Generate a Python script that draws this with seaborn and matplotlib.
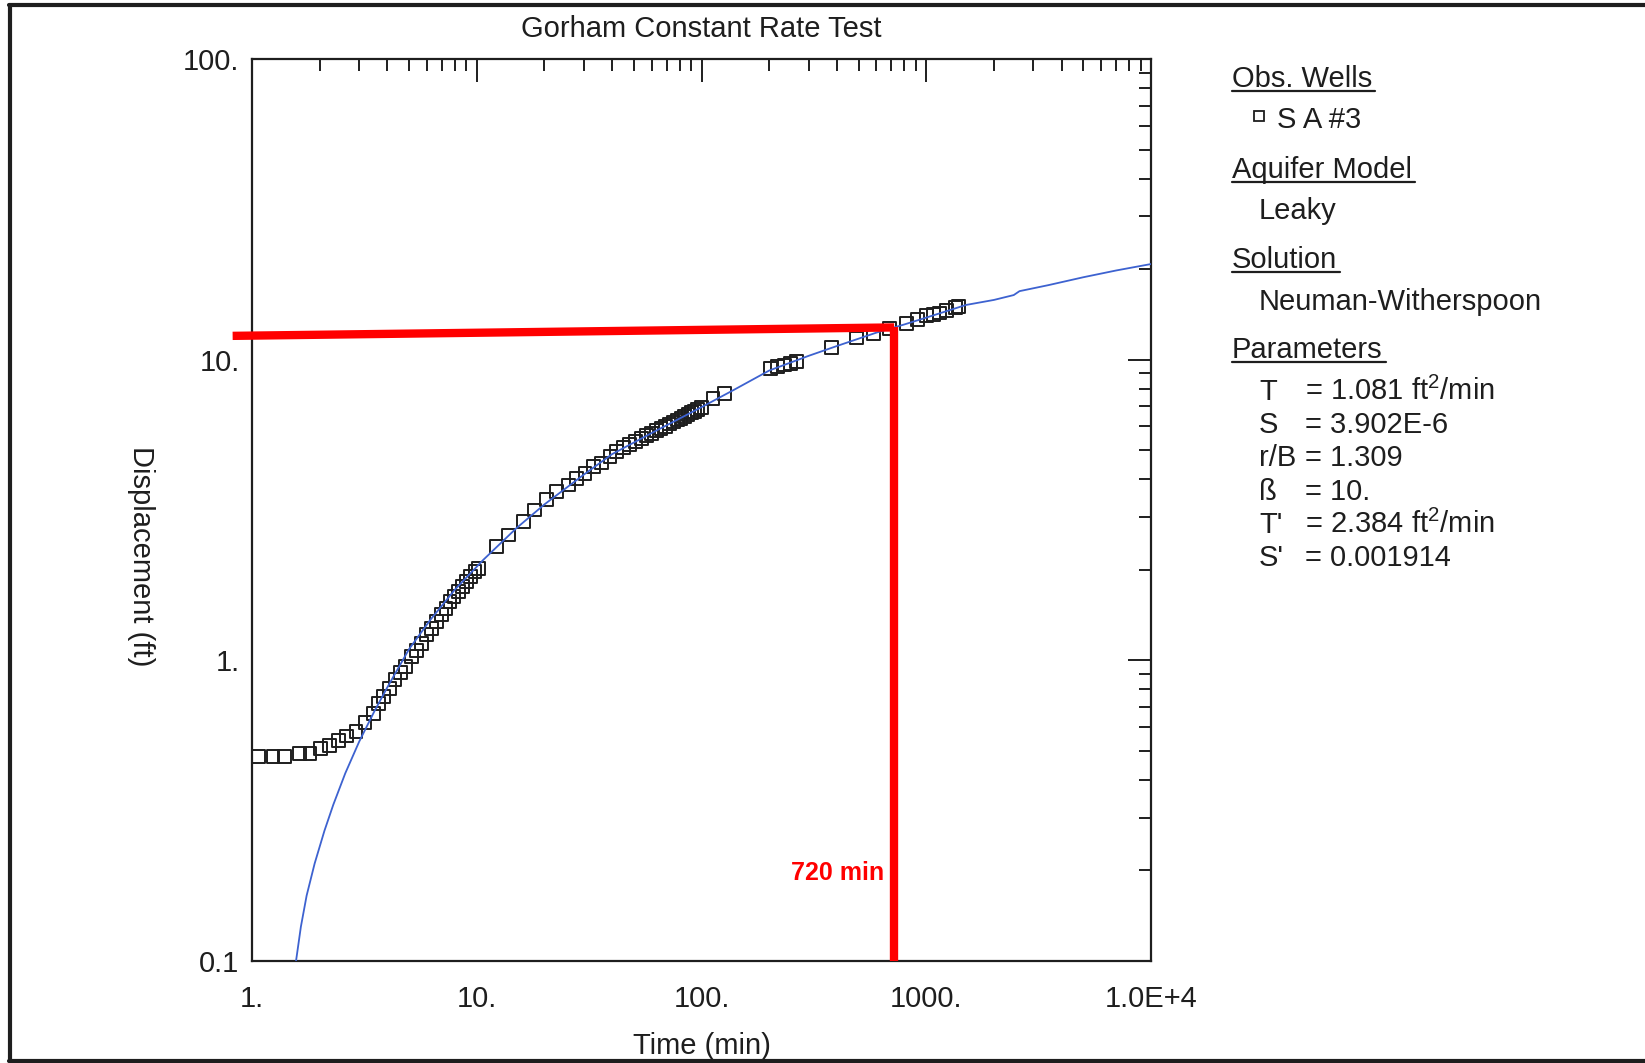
import matplotlib
matplotlib.use("Agg")
import matplotlib.pyplot as plt
from matplotlib.lines import Line2D
from matplotlib.ticker import LogLocator, NullFormatter
import seaborn as sns

obs_time = [1.07, 1.24, 1.40, 1.63, 1.81, 2.02, 2.22, 2.42, 2.64, 2.90, 3.18,
            3.47, 3.65, 3.84, 4.08, 4.33, 4.56, 4.80, 5.14, 5.41, 5.69, 5.99,
            6.30, 6.64, 6.98, 7.30, 7.60, 7.92, 8.28, 8.66, 9.02, 9.40, 9.82,
            10.2, 12.2, 13.8, 16.1, 18.1, 20.5, 22.7, 25.5, 27.8, 30.3, 33.0,
            36.0, 39.2, 42, 45, 48, 51, 54, 57, 60, 63, 66, 69, 72, 75, 78, 81,
            84, 87, 90, 93, 96, 100, 112.5, 127, 202, 218, 235, 248, 265, 380,
            490, 582, 689, 814, 912, 1000, 1075, 1150, 1232, 1345, 1393]
obs_disp = [0.48, 0.48, 0.48, 0.49, 0.49, 0.51, 0.52, 0.54, 0.56, 0.58, 0.62,
            0.667, 0.72, 0.757, 0.807, 0.861, 0.91, 0.953, 1.03, 1.08, 1.14, 1.22,
            1.28, 1.35, 1.42, 1.49, 1.57, 1.63, 1.69, 1.76, 1.83, 1.90, 1.97,
            2.02, 2.39, 2.61, 2.89, 3.16, 3.42, 3.64, 3.83, 4.03, 4.19, 4.41,
            4.53, 4.76, 4.95, 5.09, 5.22, 5.34, 5.46, 5.58, 5.69, 5.80, 5.90,
            6.00, 6.11, 6.20, 6.30, 6.39, 6.48, 6.57, 6.66, 6.74, 6.82, 6.93,
            7.44, 7.73, 9.36, 9.50, 9.60, 9.72, 9.84, 11.0, 11.8, 12.2, 12.7,
            13.2, 13.6, 14.0, 14.1, 14.3, 14.6, 14.9, 15.0]

# Neuman-Witherspoon type curve
fit_time = [1.57, 1.65, 1.75, 1.9, 2.1, 2.3, 2.6, 3.0, 3.5, 4.0, 5.0, 6.2, 8.0,
            10.7, 15, 20, 30, 40, 60, 100, 140, 200, 300, 400, 600, 800, 1000,
            1500, 2000, 2450, 2600, 3500, 5000, 7000, 10000]
fit_disp = [0.10, 0.130, 0.165, 0.211, 0.271, 0.331, 0.421, 0.537, 0.676, 0.813,
            1.09, 1.36, 1.72, 2.16, 2.75, 3.3, 4.15, 4.85, 5.7, 6.95, 7.95, 9.2,
            10.3, 11.1, 12.3, 13.1, 13.8, 15.2, 15.8, 16.4, 16.9, 17.7, 18.8,
            19.8, 20.8]

# red 720 min marker
mark_h_time = [0.82, 720]
mark_h_disp = [12.0, 12.8]
mark_v_time = [720, 720]
mark_v_disp = [12.8, 0.1]

x_ticks = [1, 10, 100, 1000, 10000]
x_labels = ["1.", "10.", "100.", "1000.", "1.0E+4"]
y_ticks = [0.1, 1, 10, 100]
y_labels = ["0.1", "1.", "10.", "100."]

param_names = ["T", "S", "r/B", "ß", "T'", "S'"]
param_values = ["= 1.081 ft$^\\mathregular{2}$/min", "= 3.902E-6", "= 1.309",
                "= 10.", "= 2.384 ft$^\\mathregular{2}$/min", "= 0.001914"]

W, H = 1645, 1063
INK = "#1e1e1e"


def fx(px):
    return px / W


def fy(py):
    return 1 - py / H


sns.set_style("white")
plt.rcParams["font.family"] = ["Liberation Sans", "DejaVu Sans"]
plt.rcParams["mathtext.fontset"] = "custom"
plt.rcParams["mathtext.rm"] = "Liberation Sans"
FS = 21

fig = plt.figure(figsize=(16.45, 10.63), dpi=100)
ax = fig.add_axes([fx(252), fy(961), 899 / W, 902 / H])
ax.set(xscale="log", yscale="log")

sns.scatterplot(x=obs_time, y=obs_disp, ax=ax, marker="s", s=85,
                facecolor="none", edgecolor=INK, linewidth=1.4, zorder=2)
sns.lineplot(x=fit_time, y=fit_disp, ax=ax, color="#3d62d0", lw=1.3,
             sort=False, estimator=None, zorder=3)

ax.plot(mark_h_time, mark_h_disp, color="#ff0000", lw=6, solid_capstyle="butt",
        clip_on=False, zorder=5)
ax.plot(mark_v_time, mark_v_disp, color="#ff0000", lw=6, solid_capstyle="butt",
        clip_on=False, zorder=5)
ax.text(650, 0.196, "720 min", color="#ff0000", fontsize=18, fontweight="bold",
        ha="right", va="center")

ax.set_xlim(1, 10000)
ax.set_ylim(0.1, 100)
ax.set_xticks(x_ticks, x_labels)
ax.set_yticks(y_ticks, y_labels)
ax.xaxis.set_minor_locator(LogLocator(base=10, subs=range(2, 10)))
ax.yaxis.set_minor_locator(LogLocator(base=10, subs=range(2, 10)))
ax.xaxis.set_minor_formatter(NullFormatter())
ax.yaxis.set_minor_formatter(NullFormatter())
ax.tick_params(which="both", direction="in", top=True, right=True,
               color=INK, labelsize=FS, labelcolor=INK)
ax.tick_params(which="major", length=16.5, width=1.4)
ax.tick_params(which="minor", length=8.3, width=1.4)
ax.tick_params(axis="x", which="major", pad=17)
ax.tick_params(axis="y", which="major", pad=9)
for sp in ax.spines.values():
    sp.set_linewidth(1.6)
    sp.set_color(INK)

ax.set_xlabel("Time (min)", fontsize=FS, color=INK)
ax.xaxis.set_label_coords(0.5, -0.094)
ax.xaxis.label.set_va("center")
ax.set_ylabel("Displacement (ft)", fontsize=FS, color=INK, rotation=270)
ax.yaxis.set_label_coords(-0.124, 0.449)
ax.yaxis.label.set_va("center")

fig.text(fx(701), fy(29), "Gorham Constant Rate Test", fontsize=FS,
         ha="center", va="center", color=INK)

# legend panel on the right
headers = [("Obs. Wells", 87.4), ("Aquifer Model", 177.5),
           ("Solution", 268), ("Parameters", 357.5)]
head_texts = []
for label, base in headers:
    t = fig.text(fx(1232), fy(base), label, fontsize=FS, va="baseline", color=INK)
    head_texts.append((t, base))

fig.add_artist(Line2D([fx(1259)], [fy(116)], marker="s", markersize=7.5,
                      markerfacecolor="none", markeredgecolor=INK,
                      markeredgewidth=1.3))
fig.text(fx(1277), fy(127.7), "S A #3", fontsize=FS, va="baseline", color=INK)
fig.text(fx(1259), fy(219), "Leaky", fontsize=FS, va="baseline", color=INK)
fig.text(fx(1259), fy(310), "Neuman-Witherspoon", fontsize=FS, va="baseline",
         color=INK)
for i, (name, value) in enumerate(zip(param_names, param_values)):
    base = 399.6 + i * 33.3
    fig.text(fx(1259), fy(base), name, fontsize=FS, va="baseline", color=INK)
    fig.text(fx(1305), fy(base), value, fontsize=FS, va="baseline", color=INK)

# underline the section headers
fig.canvas.draw()
renderer = fig.canvas.get_renderer()
for t, base in head_texts:
    bb = t.get_window_extent(renderer)
    fig.add_artist(Line2D([bb.x0 / W, (bb.x1 + 3) / W], [fy(base + 4), fy(base + 4)],
                          color=INK, lw=1.6))

# page frame
fig.add_artist(Line2D([fx(9), 1], [fy(5), fy(5)], color=INK, lw=3))
fig.add_artist(Line2D([fx(10), fx(10)], [fy(5), fy(1061)], color=INK, lw=3))
fig.add_artist(Line2D([fx(9), 1], [fy(1061), fy(1061)], color=INK, lw=3))

fig.savefig("out.png", dpi=100)
